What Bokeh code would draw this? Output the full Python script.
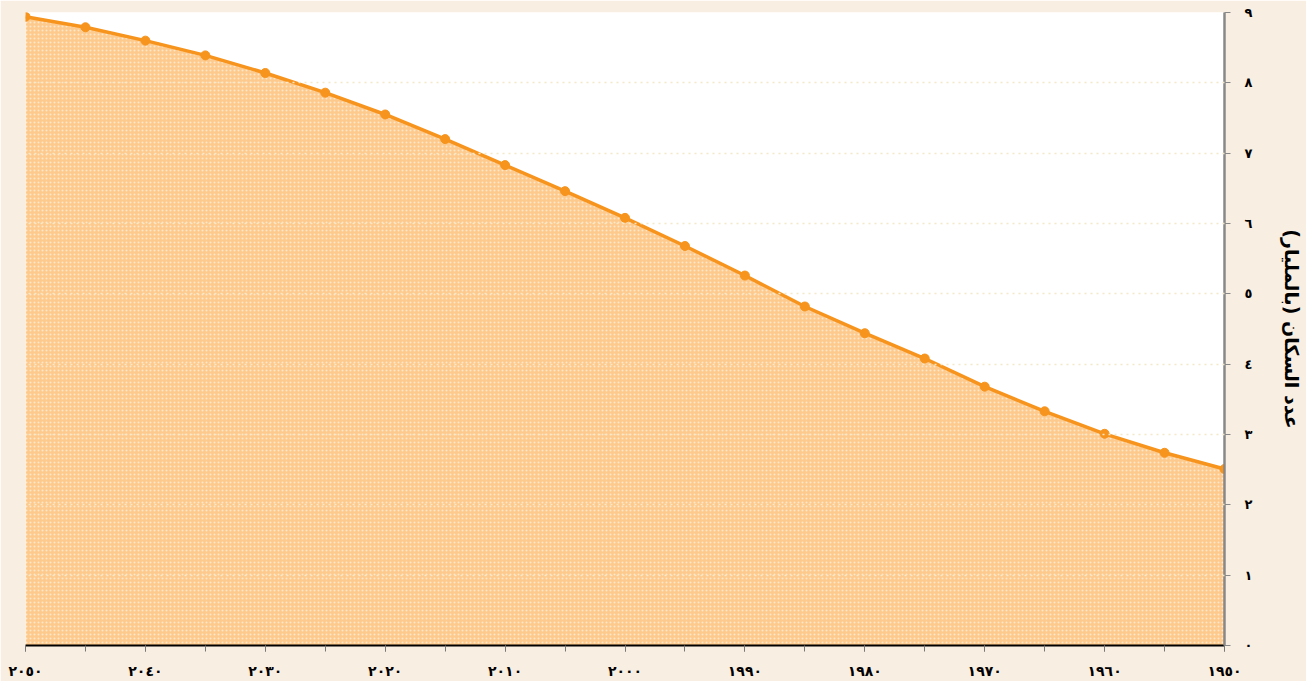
from bokeh.plotting import figure
from bokeh.models import Range1d, FixedTicker
from bokeh.embed import file_html
from bokeh.resources import INLINE

# Data: world population (billions), 1950-2050
years = [1950, 1955, 1960, 1965, 1970, 1975, 1980, 1985, 1990, 1995, 2000,
         2005, 2010, 2015, 2020, 2025, 2030, 2035, 2040, 2045, 2050]
population = [2.51, 2.74, 3.01, 3.33, 3.68, 4.08, 4.44, 4.82, 5.26, 5.68, 6.08,
              6.46, 6.83, 7.20, 7.55, 7.86, 8.14, 8.39, 8.60, 8.79, 8.94]
x_tick_values = list(range(1950, 2051, 10))
y_tick_values = list(range(0, 10))
y_axis_title = "عدد السكان (بالمليار)"

AR_DIGITS = str.maketrans("0123456789", "٠١٢٣٤٥٦٧٨٩")


def ar(n):
    return str(n).translate(AR_DIGITS)


p = figure(
    frame_width=1199, frame_height=633,
    min_border_left=25, min_border_right=80, min_border_top=12, min_border_bottom=35,
    x_range=Range1d(2050, 1950), y_range=Range1d(0, 9),
    x_axis_location="below", y_axis_location="right",
    output_backend="svg", toolbar_location=None,
)
p.border_fill_color = "#f9eee2"
p.background_fill_color = "white"
p.outline_line_color = None

p.varea(x=years, y1=0, y2=population, fill_color="#fec98c",
        hatch_pattern="dot", hatch_color="white", hatch_alpha=0.55,
        hatch_scale=4, hatch_weight=1)
p.line(x=years, y=population, line_color="#f7941d", line_width=3.5)
p.scatter(x=years, y=population, size=9, marker="circle",
          fill_color="#f7941d", line_color="#f7941d")

# grid
p.xgrid.grid_line_color = None
p.ygrid.ticker = FixedTicker(ticks=y_tick_values)
p.ygrid.grid_line_color = "#f3e8c8"
p.ygrid.grid_line_dash = "2 4"
p.ygrid.grid_line_width = 1.5
p.ygrid.level = "annotation"

# x axis
xa = p.xaxis[0]
xa.ticker = FixedTicker(ticks=x_tick_values, minor_ticks=years)
xa.major_label_overrides = {y: ar(y) for y in x_tick_values}
xa.axis_line_color = "black"
xa.axis_line_width = 2
xa.major_tick_out = 6
xa.major_tick_in = 0
xa.minor_tick_out = 6
xa.minor_tick_in = 0
xa.major_tick_line_color = "#777777"
xa.minor_tick_line_color = "#777777"
xa.major_label_text_font = "DejaVu Sans"
xa.major_label_text_font_style = "bold"
xa.major_label_text_font_size = "14px"
xa.major_label_text_color = "black"
xa.major_label_standoff = 11

# y axis
ya = p.yaxis[0]
ya.ticker = FixedTicker(ticks=y_tick_values)
ya.major_label_overrides = {v: ar(v) for v in y_tick_values}
ya.axis_line_color = "#888888"
ya.axis_line_width = 2.5
ya.major_tick_out = 6
ya.major_tick_in = 0
ya.minor_tick_line_color = None
ya.major_tick_line_color = "#888888"
ya.major_label_text_font = "DejaVu Sans"
ya.major_label_text_font_style = "bold"
ya.major_label_text_font_size = "13px"
ya.major_label_text_color = "black"
ya.major_label_standoff = 14
ya.axis_label = y_axis_title
ya.axis_label_text_font = "DejaVu Sans"
ya.axis_label_text_font_style = "bold"
ya.axis_label_text_font_size = "19px"
ya.axis_label_text_color = "black"
ya.axis_label_standoff = 26

open("out.html", "w").write(file_html(p, INLINE))
